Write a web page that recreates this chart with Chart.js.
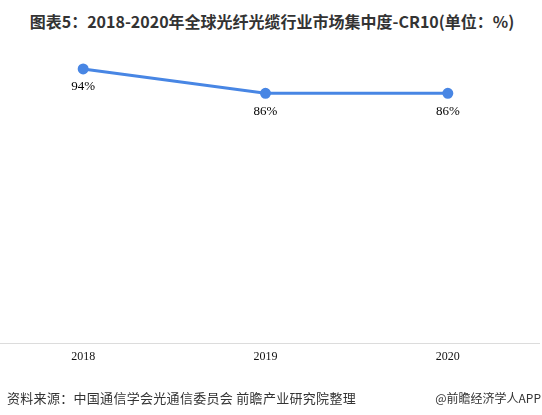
<!DOCTYPE html>
<html>
<head>
<meta charset="utf-8">
<script src="https://cdn.jsdelivr.net/npm/chart.js@4"></script>
<style>
  body { margin: 0; background: #fff; width: 542px; height: 415px; overflow: hidden; position: relative; }
  #title { position: absolute; top: 9px; left: 0; width: 544px; text-align: center; font: bold 16px "Noto Sans CJK SC", sans-serif; color: #333; }
  #wrap { position: absolute; left: -8px; top: 0; width: 555px; height: 415px; }
  #source { position: absolute; left: 7px; top: 388px; font: 13px "Noto Sans CJK SC", sans-serif; color: #333; letter-spacing: 0.3px; }
  #brand { position: absolute; right: 1px; top: 389px; font: 12px "Noto Sans CJK SC", sans-serif; color: #333; }
</style>
</head>
<body>
<div id="title">图表5：2018-2020年全球光纤光缆行业市场集中度-CR10(单位：%)</div>
<div id="wrap"><canvas id="cr10-chart"></canvas></div>
<div id="source">资料来源：中国通信学会光通信委员会 前瞻产业研究院整理</div>
<div id="brand">@前瞻经济学人APP</div>
<script>
  const years = ["2018", "2019", "2020"];
  const cr10 = [94, 86, 86];

  // value labels under each point
  const pointLabels = {
    id: "pointLabels",
    afterDatasetsDraw(chart) {
      const ctx = chart.ctx;
      const meta = chart.getDatasetMeta(0);
      ctx.save();
      ctx.font = '13px "Liberation Serif", serif';
      ctx.fillStyle = "#000";
      ctx.textAlign = "center";
      ctx.textBaseline = "middle";
      meta.data.forEach((pt, i) => {
        ctx.fillText(cr10[i] + "%", pt.x, pt.y + 18);
      });
      ctx.restore();
    },
  };

  const data = {
    labels: years,
    datasets: [
      {
        label: "CR10",
        data: cr10,
        borderColor: "#4886e4",
        backgroundColor: "#4886e4",
        borderWidth: 3,
        pointRadius: 4,
        pointHoverRadius: 4,
        tension: 0,
      },
    ],
  };

  const options = {
    responsive: true,
    maintainAspectRatio: false,
    animation: false,
    layout: {
      autoPadding: false,
      padding: { top: 40, right: 8, bottom: 45, left: 0 },
    },
    plugins: {
      legend: { display: false },
      tooltip: { enabled: false },
    },
    scales: {
      x: {
        offset: true,
        grid: { display: false, drawTicks: false },
        border: { display: true, color: "#dcdcdc", width: 1 },
        ticks: {
          padding: 6,
          color: "#111",
          font: { family: '"Liberation Serif", serif', size: 12 },
        },
      },
      y: {
        display: false,
        min: 3.9,
        max: 103.5,
      },
    },
  };

  new Chart(document.getElementById("cr10-chart"), {
    type: "line",
    data: data,
    options: options,
    plugins: [pointLabels],
  });
</script>
</body>
</html>
